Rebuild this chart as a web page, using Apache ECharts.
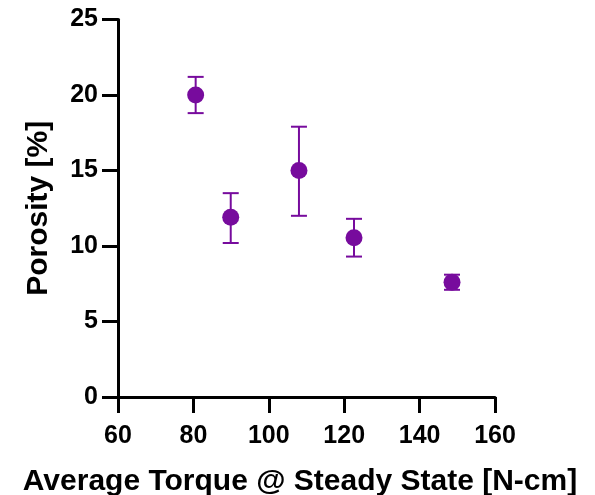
<!DOCTYPE html>
<html>
<head>
<meta charset="utf-8">
<script src="https://cdn.jsdelivr.net/npm/echarts@6/dist/echarts.min.js"></script>
<style>
  html, body { margin: 0; padding: 0; background: #fff; }
  #chart { width: 595px; height: 495px; }
</style>
</head>
<body>
<div id="chart"></div>
<script>
  // average torque [N-cm], porosity mean [%] and error bar limits
  var torque = [80.6, 89.9, 108.0, 122.6, 148.6];
  var porosity = [20.0, 11.9, 15.0, 10.55, 7.6];
  var errLow = [18.8, 10.2, 12.0, 9.3, 7.1];
  var errHigh = [21.2, 13.5, 17.9, 11.8, 8.1];

  var purple = '#770b9d';
  var font = 'Liberation Sans, Arial, Helvetica, sans-serif';

  var points = torque.map(function (t, i) { return [t, porosity[i]]; });
  var bars = torque.map(function (t, i) { return [t, errLow[i], errHigh[i]]; });

  var myChart = echarts.init(document.getElementById('chart'));
  var option = {
    animation: false,
    grid: { left: 118, right: 100, top: 19.5, bottom: 98, containLabel: false, outerBoundsMode: 'none' },
    xAxis: {
      type: 'value',
      min: 60, max: 160, interval: 20,
      name: 'Average Torque @ Steady State [N-cm]',
      nameLocation: 'middle',
      nameGap: 70,
      nameTextStyle: { fontFamily: font, fontWeight: 'bold', fontSize: 30, color: '#000', padding: [0, 13, 0, 0] },
      axisLine: { onZero: false, lineStyle: { color: '#000', width: 3 } },
      axisTick: { show: true, inside: false, length: 16, lineStyle: { color: '#000', width: 3 } },
      axisLabel: { fontFamily: font, fontWeight: 'bold', fontSize: 25, color: '#000', margin: 27 },
      splitLine: { show: false }
    },
    yAxis: {
      type: 'value',
      min: 0, max: 25, interval: 5,
      name: 'Porosity [%]',
      nameLocation: 'middle',
      nameGap: 64,
      nameTextStyle: { fontFamily: font, fontWeight: 'bold', fontSize: 30, color: '#000' },
      axisLine: { show: true, onZero: false, lineStyle: { color: '#000', width: 3 } },
      axisTick: { show: true, inside: false, length: 16, lineStyle: { color: '#000', width: 3 } },
      axisLabel: { fontFamily: font, fontWeight: 'bold', fontSize: 25, color: '#000', margin: 20 },
      splitLine: { show: false }
    },
    series: [
      {
        type: 'custom',
        data: bars,
        renderItem: function (params, api) {
          var x = api.value(0);
          var lo = api.coord([x, api.value(1)]);
          var hi = api.coord([x, api.value(2)]);
          var half = 8;
          var style = { stroke: purple, lineWidth: 2, fill: null };
          return {
            type: 'group',
            children: [
              { type: 'line', shape: { x1: lo[0], y1: lo[1], x2: hi[0], y2: hi[1] }, style: style },
              { type: 'line', shape: { x1: lo[0] - half, y1: lo[1], x2: lo[0] + half, y2: lo[1] }, style: style },
              { type: 'line', shape: { x1: hi[0] - half, y1: hi[1], x2: hi[0] + half, y2: hi[1] }, style: style }
            ]
          };
        },
        z: 2
      },
      {
        type: 'scatter',
        data: points,
        symbol: 'circle',
        symbolSize: 17,
        itemStyle: { color: purple, opacity: 1 },
        z: 3
      }
    ]
  };
  myChart.setOption(option);
</script>
</body>
</html>
